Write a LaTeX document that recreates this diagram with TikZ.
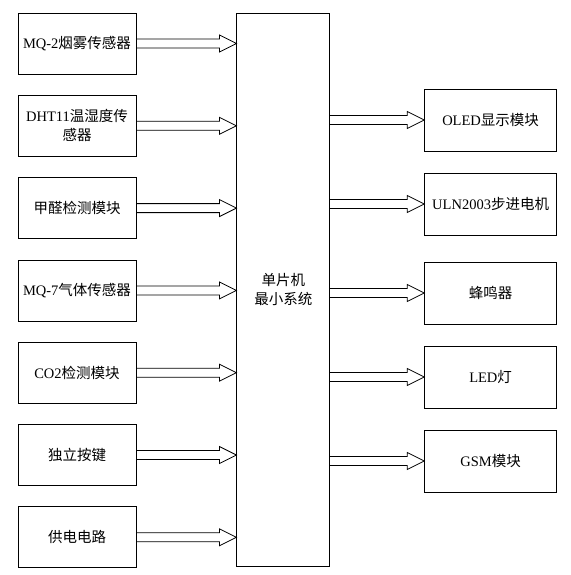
\documentclass[tikz,border=0pt]{standalone}
\usepackage{fontspec}
\setmainfont{Liberation Serif}
\newfontfamily\cjk{Noto Sans CJK SC}
\usepackage{tikz}
\usetikzlibrary{positioning, calc}

\newcommand{\ltn}[1]{{\rmfamily #1}}
\newcommand{\fatarrow}[2]{%
  \draw[line width=0.8pt] let \p1=#1, \p2=#2 in
    (\x1,\y1+4.5pt) -- (\x2-17pt,\y1+4.5pt) -- (\x2-17pt,\y1+8.5pt) -- (\x2,\y1)
    -- (\x2-17pt,\y1-8.5pt) -- (\x2-17pt,\y1-4.5pt) -- (\x1,\y1-4.5pt);}

\begin{document}
\begin{tikzpicture}[node distance=20.5pt,block/.style={draw,line width=0.8pt,rectangle,minimum width=118pt,minimum height=61pt,inner sep=1pt,align=center,font=\cjk\fontsize{14.5}{19}\selectfont},outblock/.style={block,minimum width=132pt,minimum height=62pt}]
  \useasboundingbox (0,0) rectangle (570pt,-575pt);
  % inputs
  \node[block] (mq2) at (77pt,-43.5pt) {\ltn{MQ-2}烟雾传感器};
  \node[block,below=of mq2] (dht) {\ltn{DHT11}温湿度传\\感器};
  \node[block,below=of dht] (hcho) {甲醛检测模块};
  \node[block,below=of hcho] (mq7) {\ltn{MQ-7}气体传感器};
  \node[block,below=of mq7] (co2) {\ltn{CO2}检测模块};
  \node[block,below=of co2] (key) {独立按键};
  \node[block,below=of key] (pwr) {供电电路};
  % controller
  \node[block,minimum width=93pt,minimum height=553pt,right=100pt of mq2.north east,anchor=north west] (mcu) {单片机\\最小系统};
  % outputs
  \node[outblock,right=94pt of mcu.north east,anchor=north west,yshift=-76pt] (oled) {\ltn{OLED}显示模块};
  \node[outblock,below=21.2pt of oled] (uln) {\ltn{ULN2003}步进电机};
  \node[outblock,below=26.2pt of uln] (buzz) {蜂鸣器};
  \node[outblock,below=21.2pt of buzz] (led) {\ltn{LED}灯};
  \node[outblock,below=21.2pt of led] (gsm) {\ltn{GSM}模块};
  % arrows
  \foreach \b in {mq2,dht,hcho,mq7,co2,key,pwr}
    \fatarrow{(\b.east)}{(mcu.west |- \b.east)};
  \foreach \b in {oled,uln,buzz,led,gsm}
    \fatarrow{(mcu.east |- \b.west)}{(\b.west)};
\end{tikzpicture}
\end{document}
